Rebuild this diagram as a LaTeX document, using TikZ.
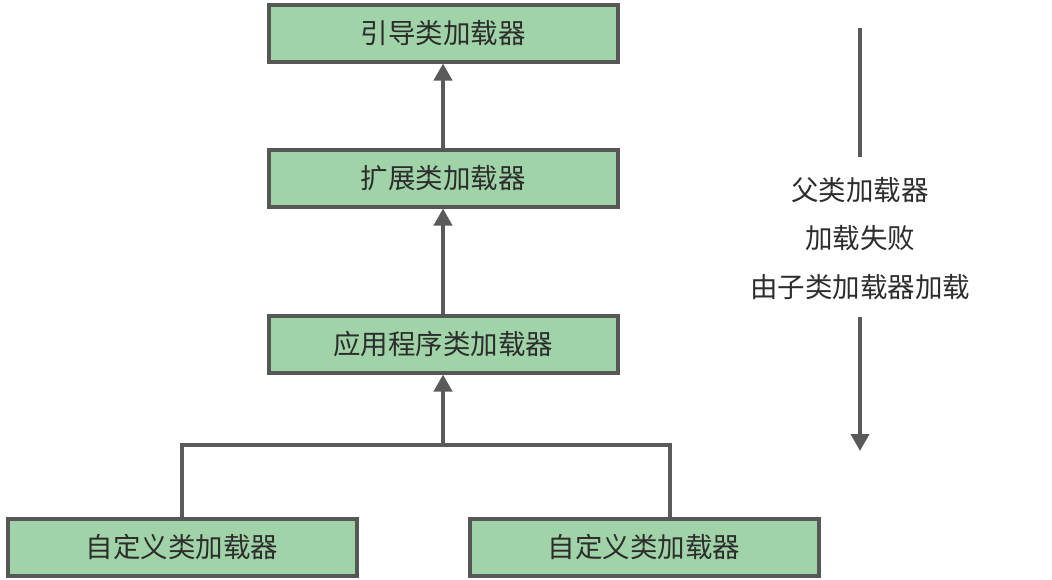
\documentclass[tikz,border=0pt]{standalone}
\usepackage{fontspec}
\setmainfont{Noto Sans CJK SC}
\usetikzlibrary{arrows.meta}
\definecolor{boxfill}{RGB}{160,212,168}
\definecolor{boxline}{RGB}{85,88,85}
\definecolor{arrline}{RGB}{90,90,90}
\definecolor{txt}{RGB}{45,45,45}
\tikzset{
  loader/.style={draw=boxline, fill=boxfill, line width=4pt, minimum height=57pt, inner sep=0pt, text=txt, font=\fontsize{27.5}{32}\selectfont},
  wide/.style={loader, minimum width=349pt},
  conn/.style={draw=arrline, line width=4pt},
  arr/.style={conn, -{Triangle[width=18pt,length=17pt]}},
  note/.style={text=txt, font=\fontsize{27.5}{32}\selectfont, inner sep=0pt}
}
\begin{document}
\begin{tikzpicture}[x=1pt,y=-1pt]
\useasboundingbox (0,0) rectangle (1052,579);
\node[wide] (boot) at (443,33) {引导类加载器};
\node[wide] (ext) at (443,178) {扩展类加载器};
\node[wide] (app) at (443,344) {应用程序类加载器};
\node[wide] (c1) at (182,547) {自定义类加载器};
\node[wide] (c2) at (644,547) {自定义类加载器};
\coordinate (j) at (443,445);
\coordinate (jl) at (182,445);
\coordinate (jr) at (670,445);
\draw[arr] (ext.north) -- (boot.south);
\draw[arr] (app.north) -- (ext.south);
\draw[arr] (j) -- (app.south);
\draw[conn] (c1.north) -- (jl) -- (jr) -- (jr |- c2.north);
\node[note] (t1) at (860,190) {父类加载器};
\node[note] (t2) at (860,238) {加载失败};
\node[note] (t3) at (860,287) {由子类加载器加载};
\coordinate (top) at (860,28);
\coordinate (bot) at (860,451);
\draw[conn] (top) -- (860,157);
\draw[arr] (860,317) -- (bot);
\end{tikzpicture}
\end{document}
